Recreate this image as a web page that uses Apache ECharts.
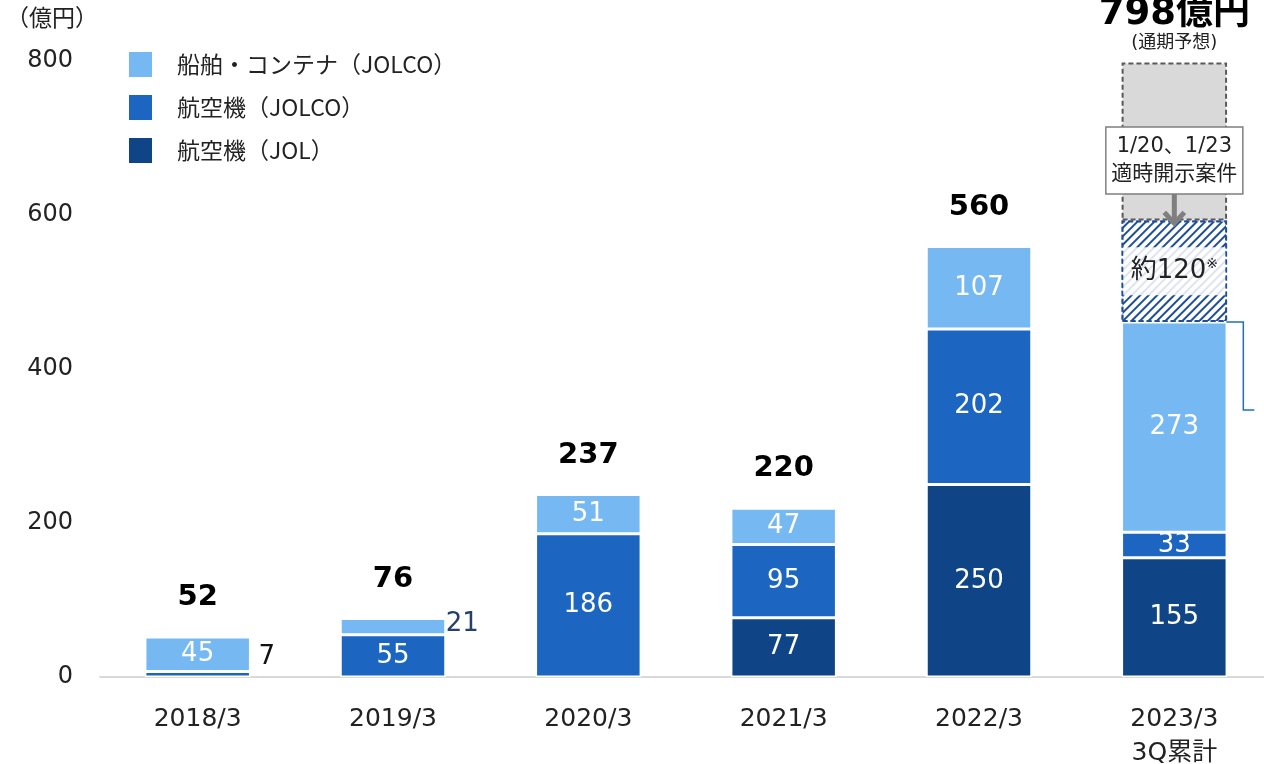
<!DOCTYPE html>
<html>
<head>
<meta charset="utf-8">
<script src="https://cdn.jsdelivr.net/npm/echarts@6/dist/echarts.min.js"></script>
<style>
  html, body { margin: 0; padding: 0; background: #fff; }
  #chart { width: 1264px; height: 764px; }
</style>
</head>
<body>
<div id="chart"></div>
<script>
// 決算期
var kessanki = ['2018/3', '2019/3', '2020/3', '2021/3', '2022/3', '2023/3\n3Q累計'];
// 航空機（JOL）
var jol = ['-', '-', '-', 77, 250, 155];
// 航空機（JOLCO）
var jolco = [7, 55, 186, 95, 202, 33];
// 船舶・コンテナ（JOLCO）
var senpaku = [45, 21, 51, 47, 107, 273];
// 1/20、1/23 適時開示案件（約120）
var kaiji = ['-', '-', '-', '-', '-', 132];
// 通期予想までの残り
var nokori = ['-', '-', '-', '-', '-', 205];
// 合計
var goukei = [52, 76, 237, 220, 560, 798];
var yTicks = [0, 200, 400, 600, 800];

var fuente = 'DejaVu Sans, "Noto Sans CJK JP", sans-serif';
var fuenteJP = '"Noto Sans CJK JP", sans-serif';
var cJol = '#0f4586', cJolco = '#1c66c1', cSen = '#75b8f2';

var chart = echarts.init(document.getElementById('chart'));

function etiquetaBlanca() {
  return { show: true, position: 'inside', color: '#fff', fontSize: 26, fontFamily: fuente };
}

var option = {
  animation: false,
  textStyle: { fontFamily: fuente },
  grid: { left: 100, right: -8, top: 61, bottom: 87, outerBoundsMode: 'none', containLabel: false },
  legend: {
    orient: 'vertical',
    left: 127,
    top: 50,
    padding: 0,
    itemWidth: 25,
    itemHeight: 27,
    itemGap: 14,
    icon: 'rect',
    data: ['船舶・コンテナ（JOLCO）', '航空機（JOLCO）', '航空機（JOL）'],
    textStyle: { fontSize: 23, color: '#222', fontFamily: fuenteJP, padding: [0, 0, 0, 19] }
  },
  xAxis: {
    type: 'category',
    data: kessanki,
    axisTick: { show: false },
    axisLine: { lineStyle: { color: '#d9d9d9', width: 2 } },
    axisLabel: { fontSize: 25, color: '#222', margin: 25, lineHeight: 34, fontFamily: fuente }
  },
  yAxis: {
    type: 'value',
    min: yTicks[0],
    max: yTicks[yTicks.length - 1],
    interval: 200,
    splitLine: { show: false },
    axisLine: { show: false },
    axisLabel: { fontSize: 24, color: '#222', margin: 27, fontFamily: fuente }
  },
  series: [
    {
      name: '航空機（JOL）', type: 'bar', stack: 'total', barWidth: '54%',
      itemStyle: { color: cJol, borderColor: '#fff', borderWidth: 1.5 },
      label: etiquetaBlanca(),
      data: jol
    },
    {
      name: '航空機（JOLCO）', type: 'bar', stack: 'total',
      itemStyle: { color: cJolco, borderColor: '#fff', borderWidth: 1.5 },
      label: etiquetaBlanca(),
      data: jolco.map(function (v, i) {
        if (i === 0) {
          return { value: v, label: { position: 'right', color: '#111', distance: 8, offset: [0, -17] } };
        }
        return v;
      })
    },
    {
      name: '船舶・コンテナ（JOLCO）', type: 'bar', stack: 'total',
      itemStyle: { color: cSen, borderColor: '#fff', borderWidth: 1.5 },
      label: etiquetaBlanca(),
      data: senpaku.map(function (v, i) {
        if (i === 1) {
          return { value: v, label: { position: 'right', color: '#253f6e', distance: 0, offset: [0, -2] } };
        }
        return v;
      })
    },
    {
      name: '適時開示', type: 'bar', stack: 'total',
      itemStyle: {
        color: '#fff', borderColor: '#1f4e99', borderWidth: 2, borderType: [5, 3],
        decal: {
          symbol: 'rect', color: '#1f4e99', backgroundColor: '#fff',
          dashArrayX: [1, 0], dashArrayY: [1.6, 4], rotation: -Math.PI / 4
        }
      },
      label: {
        show: true, position: 'inside',
        formatter: '約120{sup|※}',
        color: '#222', fontSize: 26, fontFamily: fuente,
        backgroundColor: 'rgba(255,255,255,0.85)',
        width: 102, height: 48, align: 'center', verticalAlign: 'middle', lineHeight: 48,
        rich: { sup: { fontSize: 14, color: '#222', verticalAlign: 'middle', padding: [0, 0, 14, 0] } }
      },
      data: kaiji
    },
    {
      name: '通期予想', type: 'bar', stack: 'total',
      itemStyle: { color: '#d9d9d9', borderColor: '#595959', borderWidth: 2, borderType: [5, 3] },
      data: nokori
    },
    {
      name: '合計', type: 'bar', stack: 'total',
      itemStyle: { color: 'transparent' },
      label: {
        show: true, position: 'top', distance: 25,
        color: '#000', fontSize: 29, fontWeight: 'bold', fontFamily: fuente,
        formatter: function (p) { return goukei[p.dataIndex]; }
      },
      data: goukei.map(function (v, i) {
        if (i === goukei.length - 1) {
          return {
            value: 0,
            label: {
              distance: 8,
              formatter: '{big|' + v + '億円}\n{small|(通期予想)}',
              rich: {
                big: { fontSize: 37, fontWeight: 'bold', color: '#000', lineHeight: 36, fontFamily: fuente },
                small: { fontSize: 18, fontWeight: 'normal', color: '#222', lineHeight: 22, fontFamily: fuente }
              }
            }
          };
        }
        return 0;
      })
    }
  ]
};

chart.setOption(option);

// 注記（吹き出し・矢印・引出線）
var ult = kessanki.length - 1;
var cx = chart.convertToPixel({ xAxisIndex: 0 }, kessanki[ult]);
var topKaiji = chart.convertToPixel({ yAxisIndex: 0 }, jol[ult] + jolco[ult] + senpaku[ult] + kaiji[ult]);
var baseKaiji = chart.convertToPixel({ yAxisIndex: 0 }, jol[ult] + jolco[ult] + senpaku[ult]);
var boxTop = 127, boxH = 67, boxW = 137;

chart.setOption({
  graphic: [
    {
      type: 'text', left: 6, top: 6, z: 100,
      style: { text: '（億円）', fontSize: 23, fill: '#222', fontFamily: fuenteJP }
    },
    {
      type: 'line', z: 100,
      shape: { x1: cx, y1: boxTop + boxH, x2: cx, y2: topKaiji + 2 },
      style: { stroke: '#7f7f7f', lineWidth: 5 }
    },
    {
      type: 'polyline', z: 100,
      shape: { points: [[cx - 10, topKaiji - 8], [cx, topKaiji + 3], [cx + 10, topKaiji - 8]] },
      style: { stroke: '#7f7f7f', lineWidth: 5, fill: null }
    },
    {
      type: 'rect', z: 100,
      shape: { x: cx - boxW / 2, y: boxTop, width: boxW, height: boxH },
      style: { fill: '#fff', stroke: '#7f7f7f', lineWidth: 1.5 }
    },
    {
      type: 'text', z: 101,
      x: cx, y: boxTop + boxH / 2,
      style: {
        text: '1/20、1/23\n適時開示案件', align: 'center', verticalAlign: 'middle',
        fontSize: 21, lineHeight: 28, fill: '#222', fontFamily: fuente
      }
    },
    {
      type: 'polyline', z: 100,
      shape: { points: [[cx + 52, baseKaiji], [cx + 69, baseKaiji], [cx + 69, 410], [cx + 80, 410]] },
      style: { stroke: '#1f6fc0', lineWidth: 1.5, fill: null }
    }
  ]
});
</script>
</body>
</html>
